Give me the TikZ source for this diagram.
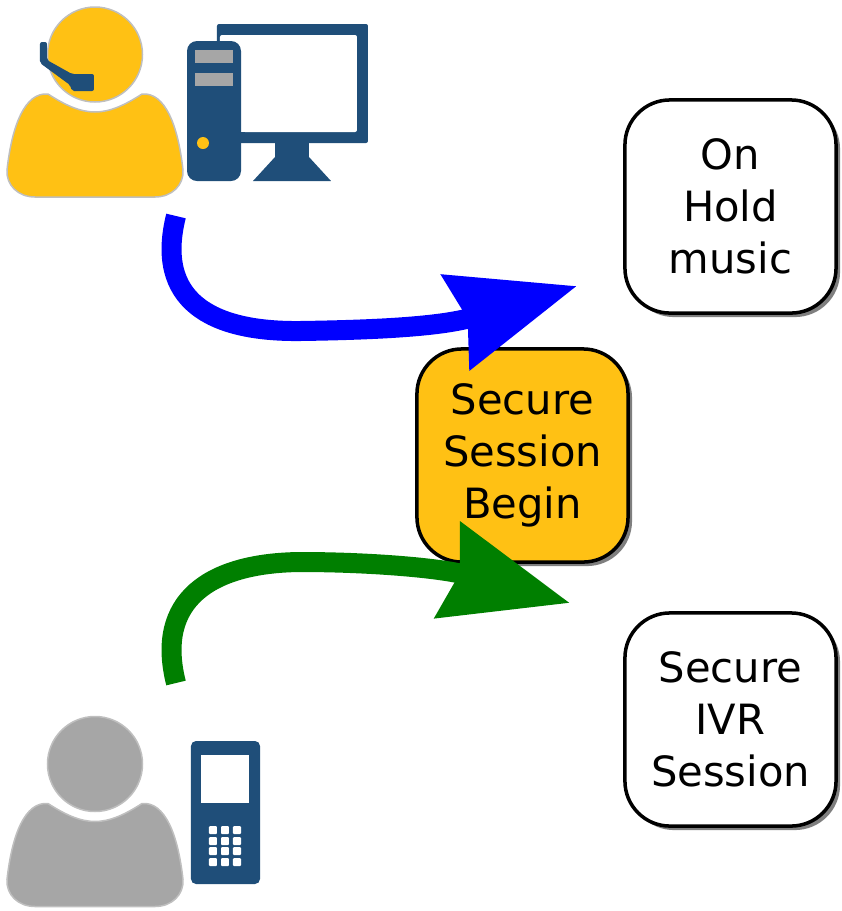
\documentclass[tikz,border=0pt]{standalone}
\usepackage{fontspec}
\setmainfont{DejaVu Sans}
\usetikzlibrary{arrows.meta, shadows}
\definecolor{gold}{HTML}{FFC114}
\definecolor{navy}{HTML}{1F4E79}
\definecolor{silver}{HTML}{A6A6A6}
\definecolor{leaf}{HTML}{007F00}
\newcommand\person[2]{
\begin{scope}[shift={(0,#1)}]
\fill[fill=#2, draw=black!25, line width=0.15mm] (95,54.5) circle (47.5);
\fill[fill=#2, draw=black!25, line width=0.15mm] (48,94) .. controls (65,105) and (80,112) .. (95,112)
  .. controls (110,112) and (125,105) .. (142,94)
  .. controls (165,92) and (178,125) .. (183,170)
  .. controls (184,185) and (172,197) .. (155,197) -- (35,197)
  .. controls (18,197) and (6,185) .. (7,170)
  .. controls (12,125) and (25,92) .. (48,94) -- cycle;
\end{scope}
}

\begin{document}
\begin{tikzpicture}[x=0.01cm, y=-0.01cm,
  statebox/.style={draw=black, line width=0.35mm, rounded corners=0.45cm, minimum width=2.11cm,
    minimum height=2.13cm, align=center, inner sep=0pt,
    font=\fontsize{11.85}{14.8}\selectfont,
    drop shadow={shadow xshift=0.04cm, shadow yshift=-0.04cm, opacity=0.5, fill=black}},
  flowarrow/.style={line width=0.2cm, -{Stealth[length=1.25cm, width=0.96cm, inset=0.11cm]}},
  navyfill/.style={fill=navy, rounded corners=0.02cm}]

\useasboundingbox (0,0) rectangle (841,911);

\person{0}{gold}
\person{709.5}{silver}

% headset
\fill[navyfill] (40,42) -- (47,42) -- (47,60) -- (72,74) -- (94,74) -- (94,91) -- (72,91) -- (70,85) -- (40,63) -- cycle;

% computer
\fill[navyfill] (217,24) rectangle (368,143);
\fill[white, rounded corners=0.02cm] (220,35) rectangle (357,132);
\fill[navy] (275,143) -- (309,143) -- (309,157) -- (331,181) -- (253,181) -- (275,157) -- cycle;
\fill[white] (187,41) -- (241,41) -- (244,45) -- (244,132) -- (241,132) -- cycle;
\fill[navy, rounded corners=0.1cm] (187,41) rectangle (241,181);
\fill[navy] (225,132) rectangle (245,143);
\fill[silver] (195,50) rectangle (233,63);
\fill[silver] (195,73) rectangle (233,86);
\fill[gold] (203,143) circle (6);

% phone
\fill[navy, rounded corners=0.05cm] (191,741) rectangle (260,884);
\fill[white] (201,755) rectangle (249,803);
\foreach \kx in {213,225,237}
  \foreach \ky in {830,841,851,862}
    \fill[white, rounded corners=0.01cm] (\kx-4,\ky-4) rectangle (\kx+4,\ky+4);

\node[statebox, fill=white] (hold) at (730.5,206.5) {On\\Hold\\music};
\node[statebox, fill=gold] (begin) at (522.5,455.5) {Secure\\Session\\Begin};
\node[statebox, fill=white] (ivr) at (730.5,719.5) {Secure\\IVR\\Session};

\coordinate (agentout) at (176,216);
\coordinate (holdin) at (577,286);
\coordinate (callerout) at (176,683);
\coordinate (ivrin) at (570,603);

\draw[flowarrow, blue] (agentout) .. controls (155,300) and (210,332) .. (300,331)
  .. controls (370,330) and (440,327) .. (holdin);
\draw[flowarrow, leaf] (callerout) .. controls (155,600) and (210,563) .. (300,562)
  .. controls (370,562) and (440,568) .. (ivrin);

\end{tikzpicture}
\end{document}
